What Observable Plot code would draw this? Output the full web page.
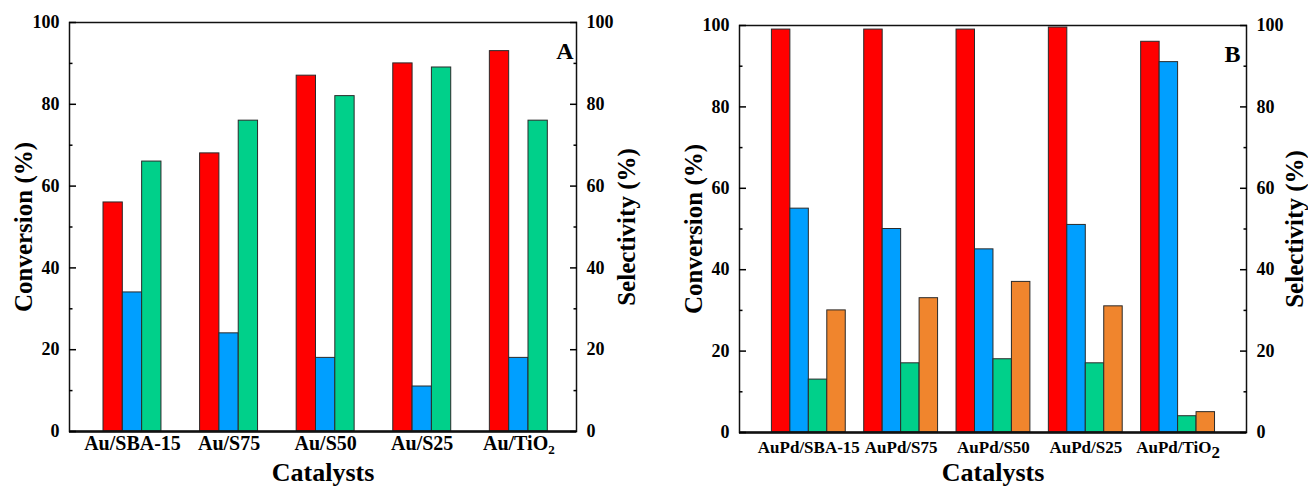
<!DOCTYPE html>
<html><head><meta charset="utf-8">
<script src="https://cdn.jsdelivr.net/npm/d3@7"></script>
<script src="https://cdn.jsdelivr.net/npm/@observablehq/plot@0.6"></script>
<style>
html,body{margin:0;padding:0;background:#fff;}
#wrap{display:flex;width:1308px;height:486px;overflow:hidden;}
#wrap svg{display:block;flex:none;}
#wrap svg text{font-family:"Liberation Serif","Times New Roman",serif !important;font-weight:bold;}
</style></head><body><div id="wrap"></div>
<script>
// ---- Panel A data ----
const catsA = ["Au/SBA-15", "Au/S75", "Au/S50", "Au/S25", "Au/TiO2"];
const seriesA = ["Conversion", "Selectivity 1", "Selectivity 2"];
const convA = [56, 68, 87, 90, 93];
const sel1A = [34, 24, 18, 11, 18];
const sel2A = [66, 76, 82, 89, 76];
const colorsA = ["#FF0000", "#009FFF", "#00D08A"];

// ---- Panel B data ----
const catsB = ["AuPd/SBA-15", "AuPd/S75", "AuPd/S50", "AuPd/S25", "AuPd/TiO2"];
const seriesB = ["Conversion", "Selectivity 1", "Selectivity 2", "Selectivity 3"];
const convB = [99, 99, 99, 99.5, 96];
const sel1B = [55, 50, 45, 51, 91];
const sel2B = [13, 17, 18, 17, 4];
const sel3B = [30, 33, 37, 31, 5];
const colorsB = ["#FF0000", "#009FFF", "#00D08A", "#F0852D"];

const yTicks = [0, 20, 40, 60, 80, 100];
const yMinor = [10, 30, 50, 70, 90];
const FONT = "Liberation Serif";

function rows(cats, series, values) {
  const out = [];
  cats.forEach((c, i) => series.forEach((s, j) =>
    out.push({cat: c, idx: i + 1, series: s, j, n: series.length, value: values[j][i]})));
  return out;
}

function panel(o) {
  const data = rows(o.cats, o.series, o.values);
  const bw = 0.2; // each bar is one fifth of the category spacing
  const txt = {fontFamily: FONT, fontWeight: "bold"};
  const chart = Plot.plot({
    width: 654, height: 486,
    marginLeft: o.ml, marginRight: o.mr, marginTop: o.mt, marginBottom: o.mb,
    style: {fontFamily: FONT, fontWeight: "bold", background: "white", color: "black", overflow: "visible"},
    x: {domain: o.xDomain, axis: null, label: null},
    y: {domain: [0, 100], axis: null, label: null},
    color: {domain: o.series, range: o.colors},
    marks: [
      Plot.rectY(data, {
        x1: d => d.idx + (d.j - d.n / 2) * bw,
        x2: d => d.idx + (d.j - d.n / 2 + 1) * bw,
        y1: 0, y2: "value", fill: "series", stroke: "#2a2a2a", strokeWidth: 1
      }),
      Plot.frame({stroke: "#111", strokeWidth: 1.5}),
      Plot.ruleY([0], {stroke: "#111", strokeWidth: 2.5}),
      // left axis
      Plot.axisY(yTicks, {anchor: "left", tickSize: 0, tickPadding: 10, fontSize: o.yFont, label: null, ...txt}),
      Plot.axisY(yTicks, {anchor: "left", tickSize: -7, tickFormat: () => "", strokeWidth: 1.5, label: null}),
      Plot.axisY(yMinor, {anchor: "left", tickSize: -3.5, tickFormat: () => "", strokeWidth: 1.5, label: null}),
      // right axis
      Plot.axisY(yTicks, {anchor: "right", tickSize: 0, tickPadding: 10, fontSize: o.yFont, label: null, ...txt}),
      Plot.axisY(yTicks, {anchor: "right", tickSize: -7, tickFormat: () => "", strokeWidth: 1.5, label: null}),
      Plot.axisY(yMinor, {anchor: "right", tickSize: -3.5, tickFormat: () => "", strokeWidth: 1.5, label: null}),
      // category axis
      Plot.axisX([1, 2, 3, 4, 5], {anchor: "bottom", tickSize: 0, tickPadding: o.xPad, fontSize: o.xFont,
        tickFormat: i => o.cats[i - 1], label: null, ...txt}),
      // titles
      Plot.text(["Conversion (%)"], {text: d => d, frameAnchor: "left", textAnchor: "middle", rotate: -90, dx: -46, fontSize: 25, ...txt}),
      Plot.text(["Selectivity (%)"], {text: d => d, frameAnchor: "right", textAnchor: "middle", rotate: -90, dx: o.rightDx, fontSize: 25, ...txt}),
      Plot.text(["Catalysts"], {text: d => d, frameAnchor: "bottom", dy: o.titleDy, fontSize: 26, ...txt}),
      Plot.text([o.letter], {text: d => d, frameAnchor: "top-right", textAnchor: "end", dx: o.letterDx, dy: o.letterDy, fontSize: 24, ...txt})
    ]
  });
  // chemical subscript for TiO2
  chart.querySelectorAll("text").forEach(t => {
    const s = t.textContent;
    if (s.endsWith("TiO2") && t.children.length <= 1) {
      t.textContent = s.slice(0, -1);
      const ts = document.createElementNS("http://www.w3.org/2000/svg", "tspan");
      ts.setAttribute("dy", "0.3em");
      ts.setAttribute("font-size", o.subSize);
      ts.textContent = "2";
      t.appendChild(ts);
    }
  });
  return chart;
}

const wrap = document.getElementById("wrap");
wrap.appendChild(panel({
  cats: catsA, series: seriesA, colors: colorsA, values: [convA, sel1A, sel2A],
  xDomain: [0.348, 5.597], ml: 69, mr: 78, mt: 22, mb: 55,
  yFont: 18, xFont: 20, xPad: 4, subSize: "0.65em", titleDy: 49, rightDx: 50,
  letter: "A", letterDx: -3, letterDy: 19
}));
wrap.appendChild(panel({
  cats: catsB, series: seriesB, colors: colorsB, values: [convB, sel1B, sel2B, sel3B],
  xDomain: [0.249, 5.741], ml: 85, mr: 62, mt: 25, mb: 54,
  yFont: 18, xFont: 17, xPad: 8, subSize: "1em", titleDy: 48, rightDx: 48,
  letter: "B", letterDx: -6, letterDy: 19
}));
</script></body></html>
